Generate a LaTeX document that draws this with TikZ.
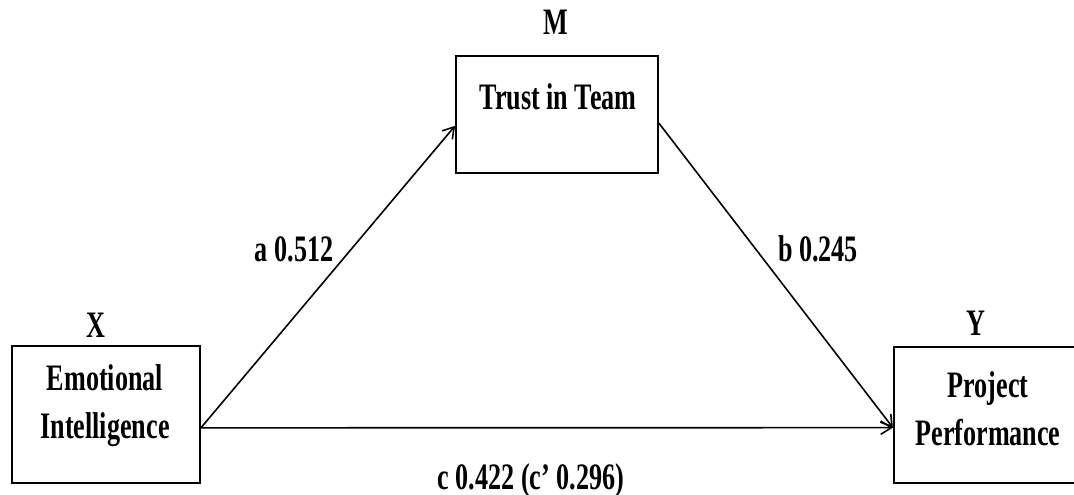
\documentclass[tikz,border=0pt]{standalone}
\usepackage{fontspec}
\setmainfont{Liberation Serif}[FakeStretch=0.7]
\usetikzlibrary{arrows.meta}

\begin{document}
\begin{tikzpicture}[x=0.75pt,y=-0.75pt,
   every node/.style={font=\bfseries\fontsize{28}{36}\selectfont},
   var/.style={draw, line width=1.4pt, inner sep=0pt},
   txt/.style={align=center, inner sep=0pt},
   path/.style={line width=1.2pt, -{Straight Barb[length=8pt,width=10pt,line width=1.2pt]}}]
\useasboundingbox (0,0) rectangle (1074,495);
\node[var, minimum width=141pt, minimum height=102.75pt] (ei) at (106,414.5) {};
\node[var, minimum width=151.5pt, minimum height=87.75pt] (tt) at (557,114.5) {};
\node[var, minimum width=139pt, minimum height=102pt] (pp) at (986.5,415) {};
\node[txt] (eit) at (105,406) {Emotional\\Intelligence};
\node[txt, anchor=base] (ttt) at (558,110) {Trust in Team};
\node[txt] (ppt) at (988,409) {Project\\Performance};
\node[anchor=base] (xl) at (96,337) {X};
\node[anchor=base] (ml) at (556,35) {M};
\node[anchor=base] (yl) at (976,335) {Y};
\node[anchor=base] (al) at (294,262) {a 0.512};
\node[anchor=base] (bl) at (818,262) {b 0.245};
\node[anchor=base] (cl) at (531,489) {c 0.422 (c’ 0.296)};
\draw[path] ([yshift=-10pt]ei.east) -- ([yshift=-8.5pt]tt.west);
\draw[path] ([yshift=-6.5pt]tt.east) -- ([yshift=-9.5pt]pp.west);
\draw[path] ([yshift=-10pt]ei.east) -- ([yshift=-9.5pt]pp.west);
\end{tikzpicture}
\end{document}
